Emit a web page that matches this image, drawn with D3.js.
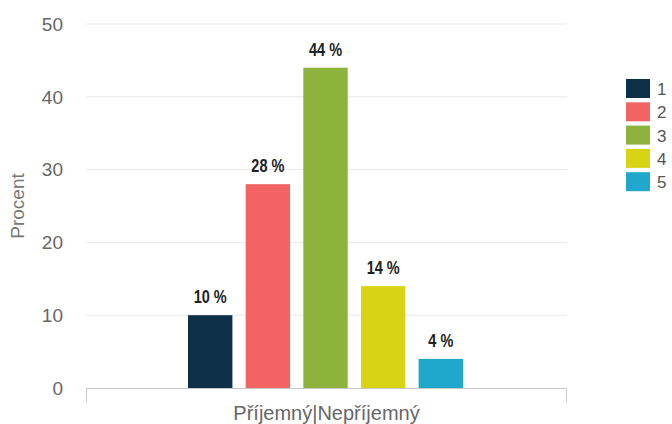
<!DOCTYPE html>
<html>
<head>
<meta charset="utf-8">
<script src="https://cdn.jsdelivr.net/npm/d3@7"></script>
<style>
  html, body { margin: 0; padding: 0; background: #fff; }
  svg { display: block; font-family: Arial, "Liberation Sans", sans-serif; }
</style>
</head>
<body>
<svg id="chart" width="672" height="424"></svg>
<script>
// Survey answers (scale 1–5) for one question, share of respondents in percent
const categories = ["Příjemný|Nepříjemný"];
const seriesNames = ["1", "2", "3", "4", "5"];
const seriesValues = [10, 28, 44, 14, 4];
const seriesColors = ["#0d2f48", "#f26464", "#8db33c", "#d8d414", "#1fa8cc"];
const yTicks = [0, 10, 20, 30, 40, 50];
const yTitle = "Procent";

const svg = d3.select("#chart");
const margin = { left: 86, right: 105, top: 24, bottom: 36 };
const W = 672, H = 424;
const plotW = W - margin.left - margin.right;
const plotH = H - margin.top - margin.bottom;

const g = svg.append("g").attr("transform", `translate(${margin.left},${margin.top})`);

const y = d3.scaleLinear().domain([0, 50]).range([plotH, 0]);
const x0 = d3.scaleBand().domain(categories).range([0, plotW]);
const x1 = d3.scaleBand().domain(seriesNames)
  .range([102, 377]).paddingInner(0.23).paddingOuter(0);

// gridlines
g.selectAll("line.grid").data(yTicks.filter(t => t > 0)).join("line")
  .attr("class", "grid")
  .attr("x1", 0).attr("x2", plotW)
  .attr("y1", d => y(d)).attr("y2", d => y(d))
  .attr("stroke", "#e8e8e8").attr("stroke-width", 1);

// y axis tick labels
const yAxis = d3.axisLeft(y).tickValues(yTicks).tickSize(0).tickPadding(23);
const ya = g.append("g").call(yAxis);
ya.select(".domain").remove();
ya.selectAll("text").attr("fill", "#666").attr("font-size", 19).attr("dy", "0.33em");

// bars
const bars = g.append("g").attr("transform", `translate(${x0(categories[0])},0)`);
bars.selectAll("rect").data(seriesValues).join("rect")
  .attr("x", (d, i) => x1(seriesNames[i]))
  .attr("width", x1.bandwidth())
  .attr("y", d => y(d))
  .attr("height", d => y(0) - y(d))
  .attr("fill", (d, i) => seriesColors[i]);

// value labels (slightly condensed, tall bold text)
bars.selectAll("text").data(seriesValues).join("text")
  .attr("transform", (d, i) =>
    `translate(${x1(seriesNames[i]) + x1.bandwidth() / 2},${y(d) - 12}) scale(1,1.3)`)
  .attr("text-anchor", "middle")
  .attr("font-size", 14.5).attr("font-weight", "bold").attr("fill", "#222")
  .text(d => `${d} %`);

// x axis baseline with end ticks
const xa = g.append("g").attr("transform", `translate(0,${plotH})`)
  .call(d3.axisBottom(x0).tickSize(0).tickPadding(0));
xa.select(".domain").attr("stroke", "#c8c8c8")
  .attr("d", `M0.5,14V0.5H${plotW - 0.5}V14`);
xa.selectAll("text").attr("fill", "#666").attr("font-size", 20)
  .attr("dy", null).attr("y", 32);

// y title
svg.append("text")
  .attr("transform", `translate(24,${margin.top + plotH / 2}) rotate(-90)`)
  .attr("text-anchor", "middle")
  .attr("fill", "#777").attr("font-size", 19)
  .text(yTitle);

// legend
const legend = svg.append("g").attr("transform", "translate(626,79)");
const items = legend.selectAll("g").data(seriesNames).join("g")
  .attr("transform", (d, i) => `translate(0,${i * 23.3})`);
items.append("rect").attr("width", 24).attr("height", 19)
  .attr("fill", (d, i) => seriesColors[i]);
items.append("text").attr("x", 31).attr("y", 16)
  .attr("font-size", 17).attr("fill", "#555").text(d => d);
</script>
</body>
</html>
